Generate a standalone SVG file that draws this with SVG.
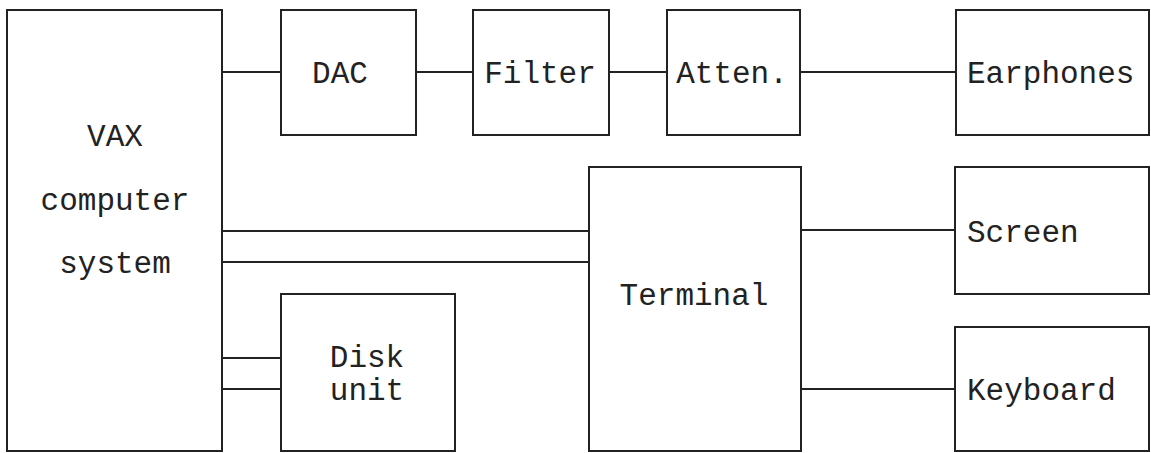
<svg xmlns="http://www.w3.org/2000/svg" width="1151" height="453" viewBox="0 0 1151 453">
<style>
.box{fill:none;stroke:#222;stroke-width:2}
.ln{stroke:#222;stroke-width:2;fill:none}
text{font-family:"Liberation Mono","Courier New",monospace;font-size:31px;fill:#222}
.c{text-anchor:middle}
</style>
<rect width="1151" height="453" fill="#fff"/>
<g id="connectors">
<line class="ln" x1="222" y1="72" x2="281" y2="72"/>
<line class="ln" x1="416" y1="72" x2="473" y2="72"/>
<line class="ln" x1="609" y1="72" x2="667" y2="72"/>
<line class="ln" x1="800" y1="72" x2="956" y2="72"/>
<line class="ln" x1="222" y1="231" x2="589" y2="231"/>
<line class="ln" x1="222" y1="262" x2="589" y2="262"/>
<line class="ln" x1="222" y1="358" x2="281" y2="358"/>
<line class="ln" x1="222" y1="389" x2="281" y2="389"/>
<line class="ln" x1="801" y1="230" x2="955" y2="230"/>
<line class="ln" x1="801" y1="389" x2="955" y2="389"/>
</g>
<g id="vax">
<rect class="box" x="7" y="10" width="215" height="441"/>
<text class="c" x="115" y="146">VAX</text>
<text class="c" x="115" y="210">computer</text>
<text class="c" x="115" y="273">system</text>
</g>
<g id="dac">
<rect class="box" x="281" y="10" width="135" height="125"/>
<text class="c" x="340" y="83">DAC</text>
</g>
<g id="filter">
<rect class="box" x="473" y="10" width="136" height="125"/>
<text class="c" x="540" y="83">Filter</text>
</g>
<g id="atten">
<rect class="box" x="667" y="10" width="133" height="125"/>
<text class="c" x="732" y="83">Atten.</text>
</g>
<g id="earphones">
<rect class="box" x="956" y="10" width="193" height="125"/>
<text x="967" y="83">Earphones</text>
</g>
<g id="terminal">
<rect class="box" x="589" y="167" width="212" height="284"/>
<text class="c" x="694" y="305">Terminal</text>
</g>
<g id="screen">
<rect class="box" x="955" y="167" width="194" height="127"/>
<text x="967" y="242">Screen</text>
</g>
<g id="keyboard">
<rect class="box" x="955" y="327" width="194" height="124"/>
<text x="967" y="400">Keyboard</text>
</g>
<g id="disk">
<rect class="box" x="281" y="294" width="174" height="157"/>
<text class="c" x="367" y="367">Disk</text>
<text class="c" x="367" y="400">unit</text>
</g>
</svg>
